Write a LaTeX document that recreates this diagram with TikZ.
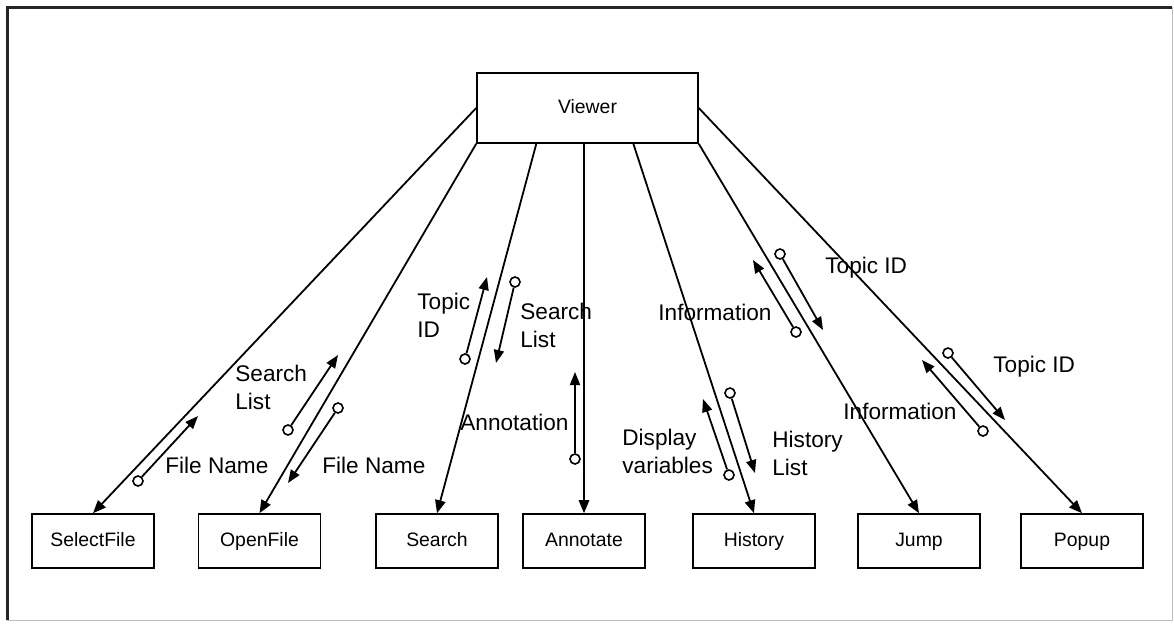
\documentclass[tikz,border=0pt]{standalone}
\usepackage{fontspec}
\setmainfont{Liberation Sans}
\usetikzlibrary{arrows.meta,calc}

\begin{document}
\begin{tikzpicture}[x=0.5pt, y=-0.5pt,
    module/.style={draw, line width=0.8pt, rectangle, minimum width=61pt, minimum height=27pt, inner sep=0pt, text height=7pt, text depth=2pt, font=\fontsize{9.7}{11}\selectfont},
    call/.style={draw, line width=0.9pt, -{Triangle[length=6.5pt,width=5.2pt]}},
    port/.style={draw, circle, line width=0.8pt, fill=white, minimum size=5pt, inner sep=0pt},
    flow/.style={draw, line width=0.9pt, -{Triangle[length=6.5pt,width=5pt]}},
    data/.style={inner sep=0pt, align=left, font=\fontsize{11.3}{14}\selectfont}
]
\useasboundingbox (0,0) rectangle (1174,623);

\coordinate (frameTL) at (7,7);
\coordinate (frameTR) at (1172,7);
\coordinate (frameBL) at (7,620);
\coordinate (frameBR) at (1172,620);
\draw[line width=0.4pt, black!25] (frameTR) -- (frameBR) -- (frameBL);
\draw[line width=1.5pt, black!85] (frameBL) -- (frameTL) -- (frameTR);

\node[module, minimum width=110.5pt, minimum height=35pt] (viewer) at (587.5, 108) {Viewer};

\node[module] (selectfile) at (93, 541) {SelectFile};
\node[module] (openfile) at (259.5, 541) {OpenFile};
\node[module] (search) at (437, 541) {Search};
\node[module] (annotate) at (584, 541) {Annotate};
\node[module] (history) at (754, 541) {History};
\node[module] (jump) at (919, 541) {Jump};
\node[module] (popup) at (1082, 541) {Popup};

\draw[call] (viewer.west) -- (selectfile.north);
\draw[call] (viewer.south west) -- (openfile.north);
\draw[call] ($(viewer.south west)!0.27!(viewer.south east)$) -- (search.north);
\draw[call] (viewer.south -| annotate.north) -- (annotate.north);
\draw[call] ($(viewer.south west)!0.706!(viewer.south east)$) -- (history.north);
\draw[call] (viewer.south east) -- (jump.north);
\draw[call] (viewer.east) -- (popup.north);

\node[data, anchor=base west] (sfNameLbl) at (165, 473) {File Name};
\node[data, anchor=north west] (ofListLbl) at (235, 365) {Search\\List};
\node[data, anchor=base west] (ofNameLbl) at (322, 473) {File Name};
\node[data, anchor=north west] (seTopicLbl) at (417, 293) {Topic\\ID};
\node[data, anchor=north west] (seListLbl) at (520, 303) {Search\\List};
\node[data, anchor=base west] (anNoteLbl) at (460, 430) {Annotation};
\node[data, anchor=north west] (hiVarsLbl) at (622, 429) {Display\\variables};
\node[data, anchor=north west] (hiListLbl) at (772, 431) {History\\List};
\node[data, anchor=base west] (juInfoLbl) at (658, 320) {Information};
\node[data, anchor=base west] (juTopicLbl) at (825, 273) {Topic ID};
\node[data, anchor=base west] (poTopicLbl) at (993, 372) {Topic ID};
\node[data, anchor=base west] (poInfoLbl) at (843, 419) {Information};

\node[port] (sfName) at (138, 481) {};
\coordinate (sfNameEnd) at (198, 416);
\node[port] (ofList) at (288, 430) {};
\coordinate (ofListEnd) at (338, 355);
\node[port] (ofName) at (338, 408) {};
\coordinate (ofNameEnd) at (288, 483);
\node[port] (seTopic) at (465, 359) {};
\coordinate (seTopicEnd) at (487, 277);
\node[port] (seList) at (515, 282) {};
\coordinate (seListEnd) at (496, 363);
\node[port] (anNote) at (575, 459) {};
\coordinate (anNoteEnd) at (575, 372);
\node[port] (hiVars) at (729, 475) {};
\coordinate (hiVarsEnd) at (703, 399);
\node[port] (hiList) at (730, 393) {};
\coordinate (hiListEnd) at (755, 473);
\node[port] (juInfo) at (796, 332) {};
\coordinate (juInfoEnd) at (753, 260);
\node[port] (juTopic) at (780, 254) {};
\coordinate (juTopicEnd) at (823, 330);
\node[port] (poTopic) at (948, 353) {};
\coordinate (poTopicEnd) at (1005, 420);
\node[port] (poInfo) at (983, 431) {};
\coordinate (poInfoEnd) at (922, 360);

\draw[flow] (sfName) -- (sfNameEnd);
\draw[flow] (ofList) -- (ofListEnd);
\draw[flow] (ofName) -- (ofNameEnd);
\draw[flow] (seTopic) -- (seTopicEnd);
\draw[flow] (seList) -- (seListEnd);
\draw[flow] (anNote) -- (anNoteEnd);
\draw[flow] (hiVars) -- (hiVarsEnd);
\draw[flow] (hiList) -- (hiListEnd);
\draw[flow] (juInfo) -- (juInfoEnd);
\draw[flow] (juTopic) -- (juTopicEnd);
\draw[flow] (poTopic) -- (poTopicEnd);
\draw[flow] (poInfo) -- (poInfoEnd);

\end{tikzpicture}
\end{document}
